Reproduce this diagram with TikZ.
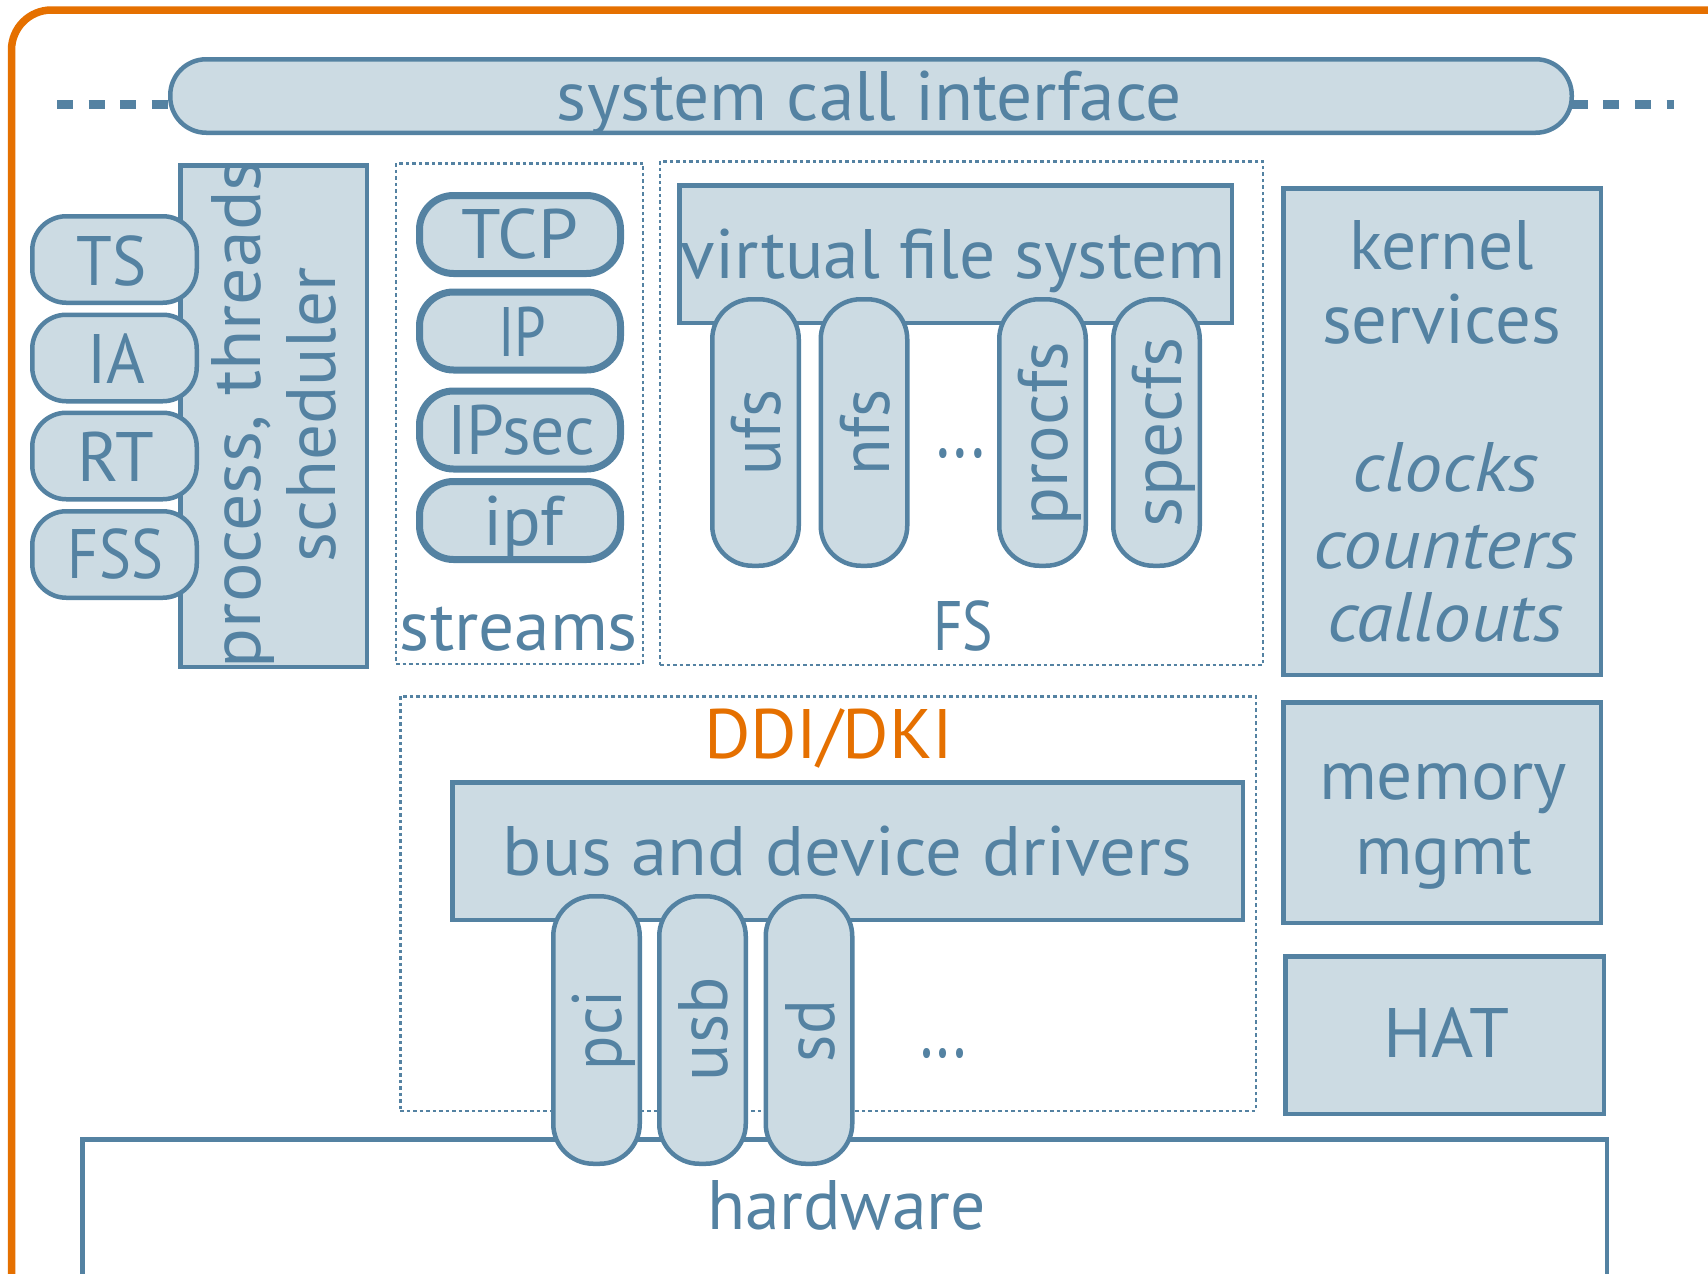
\documentclass[tikz,border=0pt]{standalone}
\usepackage{fontspec}
\setmainfont{PT Sans}
\usepackage{graphicx}
\usetikzlibrary{calc}
\definecolor{sb}{HTML}{5482A2}
\definecolor{sf}{HTML}{CCDBE3}
\definecolor{og}{HTML}{E57000}
\newcommand\fitw[2]{\resizebox{#1pt}{\height}{#2}}
\begin{document}
\begin{tikzpicture}[x=1pt,y=-1pt,
  sz/.style 2 args={minimum width=#1pt, minimum height=#2pt},
  box/.style={rectangle, draw=sb, fill=sf, line width=4.5pt, outer sep=0pt, inner sep=0pt},
  pillh/.style={box, rounded corners=34pt},
  pillv/.style={box, rounded corners=40pt},
  netpill/.style={box, line width=7pt, rounded corners=34pt},
  dotbox/.style={rectangle, draw=sb, line width=2.5pt, dash pattern=on 3.5pt off 3pt, inner sep=0pt, outer sep=0pt},
  lbl/.style={text=sb, inner sep=0pt, outer sep=0pt, anchor=base, font=\fontsize{70}{80}\selectfont},
  dashline/.style={draw=sb, line width=9pt, dash pattern=on 16pt off 15.6pt},
  frameline/.style={draw=og, line width=7.5pt, rounded corners=40pt},
]
\useasboundingbox (0,0) rectangle (1708,1274);
\fill[white] (0,0) rectangle (1708,1274);
\clip (0,0) rectangle (1708,1274);

% orange frame
\draw[frameline] (11.5,1400) -- (11.5,10) -- (1800,10);

% dotted groups
\node[dotbox, sz={247}{500.5}] (streams) at (519.5,413.5) {};
\node[dotbox, sz={603}{503.5}] (fs) at (961.5,413) {};
\node[dotbox, sz={855.5}{414.5}] (ddi) at (828,903.5) {};

% hardware
\node[box, fill=white, sz={1524.5}{300}] (hw) at (844.5,1289.25) {};

% system call interface
\node[pillh, rounded corners=36pt, sz={1401.5}{73.5}] (sci) at (871,96) {};
\coordinate (dl) at (57,104);
\coordinate (dr) at (1674,104);
\draw[dashline] (dl) -- ($(sci.west)+(0,8)$);
\draw[dashline] ($(sci.east)+(0,8)$) -- (dr);

% scheduler
\node[box, sz={186.5}{501.5}] (sched) at (273.5,416) {};
\node[pillh, sz={164.5}{86.5}] (ts) at (114.5,259.5) {};
\node[pillh, sz={164.5}{86.5}] (ia) at (114.5,358) {};
\node[pillh, sz={164.5}{86.5}] (rt) at (114.5,456) {};
\node[pillh, sz={164.5}{86.5}] (fss) at (114.5,554.5) {};

% streams
\node[netpill, sz={201}{78}] (tcp) at (520,234.5) {};
\node[netpill, sz={201}{78}] (ip) at (520,331) {};
\node[netpill, sz={201}{78}] (ipsec) at (520,430) {};
\node[netpill, sz={201}{78}] (ipf) at (520,520.5) {};

% file systems
\node[box, sz={552.5}{137.5}] (vfs) at (955.5,254) {};
\node[pillv, sz={86.5}{266.5}] (ufs) at (755.5,432.5) {};
\node[pillv, sz={86.5}{266.5}] (nfs) at (864,432.5) {};
\node[pillv, sz={86.5}{266.5}] (procfs) at (1042.5,432.5) {};
\node[pillv, sz={86.5}{266.5}] (specfs) at (1156.5,432.5) {};

% right column
\node[box, sz={317.5}{486.5}] (kern) at (1442,431.5) {};
\node[box, sz={317.5}{220.5}] (mem) at (1442,812.5) {};
\node[box, sz={318.5}{157.5}] (hat) at (1444.5,1035) {};

% drivers
\node[box, sz={790.5}{137.5}] (bus) at (847.5,851) {};
\node[pillv, sz={86.5}{267.5}] (pci) at (596.5,1030) {};
\node[pillv, sz={86.5}{267.5}] (usb) at (702.5,1030) {};
\node[pillv, sz={86.5}{267.5}] (sd) at (809,1030) {};

% labels
\node[lbl] (tsci) at (869.5,120) {\fitw{625}{system call interface}};
\node[lbl] (tts) at (112,285) {\fitw{70}{TS}};
\node[lbl] (tia) at (116,383) {\fitw{58}{IA}};
\node[lbl] (trt) at (116,481) {\fitw{76}{RT}};
\node[lbl] (tfss) at (115.5,578) {\fitw{95}{FSS}};
\node[lbl, rotate=90] (tproc) at (260,414) {\fitw{508}{process, threads}};
\node[lbl, rotate=90] (tsched) at (335,414.5) {\fitw{295}{scheduler}};
\node[lbl] (ttcp) at (519.5,258) {\fitw{117}{TCP}};
\node[lbl] (tip) at (522,356) {\fitw{48}{IP}};
\node[lbl] (tipsec) at (521,454) {\fitw{148}{IPsec}};
\node[lbl] (tipf) at (523,545) {\fitw{80}{ipf}};
\node[lbl] (tstreams) at (519,650) {\fitw{238}{streams}};
\node[lbl] (tvfs) at (953.5,278) {\fitw{545}{virtual file system}};
\node[lbl, rotate=90] (tufs) at (780.5,432.5) {\fitw{85}{ufs}};
\node[lbl, rotate=90] (tnfs) at (889,432) {\fitw{86}{nfs}};
\node[lbl, rotate=90] (tprocfs) at (1067.5,433.5) {\fitw{183}{procfs}};
\node[lbl, rotate=90] (tspecfs) at (1181,432.5) {\fitw{189}{specfs}};
\node[lbl] (tdotsa) at (960.5,457.5) {\resizebox{49pt}{9pt}{...}};
\node[lbl] (tfs) at (963,650) {\fitw{60}{FS}};
\node[lbl] (tkern) at (1441.5,269) {\fitw{185}{kernel}};
\node[lbl] (tserv) at (1441.5,343) {\fitw{239}{services}};
\node[lbl] (tclk) at (1445.5,491) {\fitw{187}{\itshape clocks}};
\node[lbl] (tcnt) at (1445,568) {\fitw{264}{\itshape counters}};
\node[lbl] (tcall) at (1445,641) {\fitw{236}{\itshape callouts}};
\node[lbl] (tmem) at (1443,799) {\fitw{248}{memory}};
\node[lbl] (tmgmt) at (1443.5,874) {\fitw{177}{mgmt}};
\node[lbl] (that) at (1446,1057) {\fitw{126}{HAT}};
\node[lbl, text=og] (tddi) at (828.5,758) {\fitw{249}{DDI/DKI}};
\node[lbl] (tbus) at (847.5,875) {\fitw{689}{bus and device drivers}};
\node[lbl, rotate=90] (tpci) at (621.5,1030) {\fitw{80}{pci}};
\node[lbl, rotate=90] (tusb) at (727.5,1029) {\fitw{104}{usb}};
\node[lbl, rotate=90] (tsd) at (834,1031) {\fitw{62}{sd}};
\node[lbl] (tdotsb) at (943.5,1057.5) {\resizebox{47pt}{9pt}{...}};
\node[lbl] (thw) at (846.5,1229) {\fitw{279}{hardware}};
\end{tikzpicture}
\end{document}
